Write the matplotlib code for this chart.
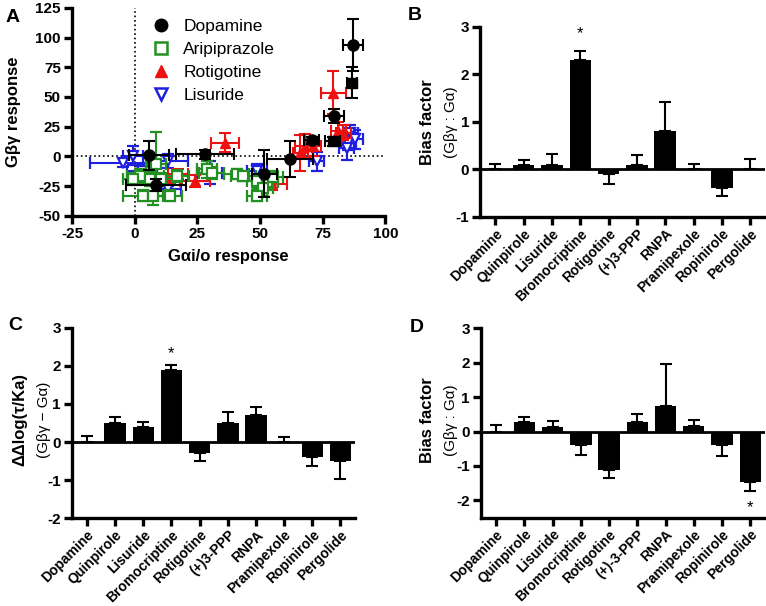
import numpy as np
import matplotlib
matplotlib.use('Agg')
import matplotlib.pyplot as plt
from matplotlib.lines import Line2D

plt.rcParams['font.family'] = ['Liberation Sans', 'DejaVu Sans']
plt.rcParams['font.weight'] = 'bold'
plt.rcParams['axes.linewidth'] = 2.4
plt.rcParams['axes.unicode_minus'] = False

# Panel A: scatter data (x, y, xerr, yerr)
dopamine_x = [5.7, 8.4, 28, 51.7, 62, 70.7, 79.6, 87]
dopamine_y = [0.8, -24.4, 1.7, -14.6, -2, 13.7, 33.9, 94]
dopamine_xerr = [8, 12, 11.5, 5, 9, 3, 4, 4]
dopamine_yerr = [12, 5, 4, 20, 15, 3, 6, 22]

dop_sq_x = [79, 86.7]
dop_sq_y = [12.6, 62]
dop_sq_xerr = [3, 2]
dop_sq_yerr = [4, 13]

arip_x = [8.7, 2, 6, 10.7, 3.3, 7.3, 14, -0.7, 16.7, 28.7, 30.7, 40.7, 43.3, 48.7, 53, 51.3, 48.7, 55]
arip_y = [-6.7, -16.5, -19, -19, -33, -33, -33, -19, -16.5, -11, -13.7, -15, -16.5, -20.7, -22, -27, -33, -17]
arip_xerr = [4, 5, 4, 5, 8, 5, 5, 4, 5, 4, 5, 5, 5, 4, 4, 4, 4, 4]
arip_yerr = [27, 6, 6, 5, 5, 8, 5, 5, 5, 7, 5, 4, 4, 5, 6, 6, 5, 5]

rotig_x = [36, 24, 14, 17.3, 54.7, 79.3, 81.3, 83.2, 68, 71.3, 66]
rotig_y = [11.5, -20.7, -19, -15, -23.5, 53.5, 21.3, 20, 8.7, 8.7, 3]
rotig_xerr = [5.5, 6, 5, 4, 6, 5, 3, 3, 4, 3, 3]
rotig_yerr = [8, 5, 4, 4, 5, 18, 8, 6, 10, 8, 15]

lisur_x = [-4.7, -0.7, 13.3, 30, 13.3, 48.7, 72.7, 85.3, 86, 88, 84.7, 3]
lisur_y = [-5.3, 0.3, -4, -13.7, -27.7, -12.3, -4, 11.5, 20, 14.3, 7.3, -12]
lisur_xerr = [13, 4, 8, 5, 5, 4, 3, 3, 3, 3, 3, 6]
lisur_yerr = [4, 8, 6, 10, 3, 6, 8, 6, 6, 8, 10, 5]

# Bar panels
drugs_b = ['Dopamine', 'Quinpirole', 'Lisuride', 'Bromocriptine', 'Rotigotine',
           '(+)3-PPP', 'RNPA', 'Pramipexole', 'Ropinirole', 'Pergolide']
drugs_d = ['Dopamine', 'Quinpirole', 'Lisuride', 'Bromocriptine', 'Rotigotine',
           '(+)-3-PPP', 'RNPA', 'Pramipexole', 'Ropinirole', 'Pergolide']
bias_b = [0.0, 0.1, 0.1, 2.3, -0.1, 0.1, 0.8, 0.0, -0.4, 0.0]
err_b = [0.12, 0.1, 0.23, 0.18, 0.2, 0.2, 0.62, 0.12, 0.15, 0.22]
dlog_c = [0.0, 0.5, 0.4, 1.9, -0.3, 0.5, 0.7, 0.0, -0.4, -0.5]
err_c = [0.15, 0.15, 0.12, 0.12, 0.2, 0.3, 0.22, 0.12, 0.22, 0.47]
bias_d = [0.0, 0.28, 0.13, -0.4, -1.12, 0.27, 0.75, 0.17, -0.4, -1.47]
err_d = [0.18, 0.15, 0.17, 0.28, 0.23, 0.23, 1.22, 0.18, 0.32, 0.26]

W, H = 766, 606
fig = plt.figure(figsize=(W / 100, H / 100), dpi=100)


def style_axes(ax, xsize=11):
    ax.spines['top'].set_visible(False)
    ax.spines['right'].set_visible(False)
    ax.tick_params(width=2.4, length=6, pad=2)
    ax.tick_params(axis='y', labelsize=11)
    ax.tick_params(axis='x', labelsize=xsize)
    for lab in ax.get_xticklabels() + ax.get_yticklabels():
        lab.set_fontweight('bold')


# ---- Panel A ----
axA = fig.add_axes([0.094, 0.644, 0.409, 0.343])
axA.axvline(0, color='black', ls=':', lw=1.2, zorder=0)
axA.axhline(0, color='black', ls=':', lw=1.2, zorder=0)
ekw = dict(ls='none', elinewidth=1.5, capsize=4, capthick=1.5, markersize=7)
axA.errorbar(lisur_x, lisur_y, xerr=lisur_xerr, yerr=lisur_yerr, marker='v',
             color='#1f1fe0', mfc='white', mew=1.6, zorder=2, **ekw)
axA.errorbar(rotig_x, rotig_y, xerr=rotig_xerr, yerr=rotig_yerr, marker='^',
             color='#ee1111', zorder=3, **ekw)
axA.errorbar(arip_x, arip_y, xerr=arip_xerr, yerr=arip_yerr, marker='s',
             color='#239023', mfc='white', mew=1.6, zorder=4, **ekw)
axA.errorbar(dop_sq_x, dop_sq_y, xerr=dop_sq_xerr, yerr=dop_sq_yerr, marker='s',
             color='black', zorder=5, **ekw)
axA.errorbar(dopamine_x, dopamine_y, xerr=dopamine_xerr, yerr=dopamine_yerr,
             marker='o', color='black', zorder=6, **dict(ekw, markersize=8))
axA.set_xlim(-25, 100)
axA.set_ylim(-50, 125)
axA.set_xticks(np.arange(-25, 101, 25))
axA.set_yticks(np.arange(-50, 126, 25))
axA.set_xlabel('Gαi/o response', fontsize=12, fontweight='bold', labelpad=6)
style_axes(axA)
fig.text(14 / W, 1 - 112 / H, 'Gβγ response', rotation=90, ha='center',
         va='center', fontsize=12, fontweight='bold')
handles = [
    Line2D([], [], ls='none', marker='o', color='black', markersize=9),
    Line2D([], [], ls='none', marker='s', color='#239023', mfc='white', mew=1.8, markersize=9),
    Line2D([], [], ls='none', marker='^', color='#ee1111', markersize=9),
    Line2D([], [], ls='none', marker='v', color='#1f1fe0', mfc='white', mew=1.8, markersize=9),
]
axA.legend(handles, ['Dopamine', 'Aripiprazole', 'Rotigotine', 'Lisuride'],
           loc='upper left', bbox_to_anchor=(0.2, 1.02), frameon=False,
           prop={'size': 12.5, 'weight': 'normal'}, handletextpad=0.7,
           labelspacing=0.45, handlelength=1.2)


def bar_panel(rect, values, errs, labels, ylim, yticks):
    ax = fig.add_axes(rect)
    x = np.arange(len(values))
    lower = [e if v < 0 else 0 for v, e in zip(values, errs)]
    upper = [0 if v < 0 else e for v, e in zip(values, errs)]
    ax.bar(x, values, width=0.76, color='black', zorder=2)
    ax.errorbar(x, values, yerr=[lower, upper], ls='none', color='black',
                elinewidth=1.5, capsize=4.5, capthick=1.5, zorder=3)
    ax.axhline(0, color='black', lw=2, zorder=1)
    ax.set_xlim(-0.53, len(values) - 0.47)
    ax.set_ylim(*ylim)
    ax.set_yticks(yticks)
    ax.set_xticks(x)
    ax.set_xticklabels(labels, rotation=45, ha='right', rotation_mode='anchor')
    style_axes(ax, xsize=10)
    ax.tick_params(axis='x', pad=1)
    return ax


axB = bar_panel([0.627, 0.642, 0.372, 0.314], bias_b, err_b, drugs_b, (-1, 3), [-1, 0, 1, 2, 3])
axB.text(3, 2.75, '*', ha='center', fontsize=12, fontweight='normal')
axC = bar_panel([0.094, 0.145, 0.370, 0.314], dlog_c, err_c, drugs_b, (-2, 3), [-2, -1, 0, 1, 2, 3])
axC.text(3, 2.2, '*', ha='center', fontsize=12, fontweight='normal')
axD = bar_panel([0.628, 0.146, 0.371, 0.312], bias_d, err_d, drugs_d, (-2.5, 3), [-2, -1, 0, 1, 2, 3])
axD.text(9, -2.35, '*', ha='center', fontsize=12, fontweight='normal')

# two-line y labels on bar panels (pixel positions)
for top, bottom, x1, x2, yc in [('Bias factor', '(Gβγ : Gα)', 428, 451, 122),
                                ('ΔΔlog(τ/Ka)', '(Gβγ − Gα)', 20, 44, 420),
                                ('Bias factor', '(Gβγ : Gα)', 428, 451, 420)]:
    fig.text(x1 / W, 1 - yc / H, top, rotation=90, ha='center', va='center',
             fontsize=12, fontweight='bold')
    fig.text(x2 / W, 1 - yc / H, bottom, rotation=90, ha='center', va='center',
             fontsize=11, fontweight='normal')

# panel letters
for letter, px, py in [('A', 6, 22), ('B', 408, 20), ('C', 8, 330), ('D', 410, 332)]:
    fig.text(px / W, 1 - py / H, letter, fontsize=14, fontweight='bold')

fig.savefig('out.png', dpi=100)
